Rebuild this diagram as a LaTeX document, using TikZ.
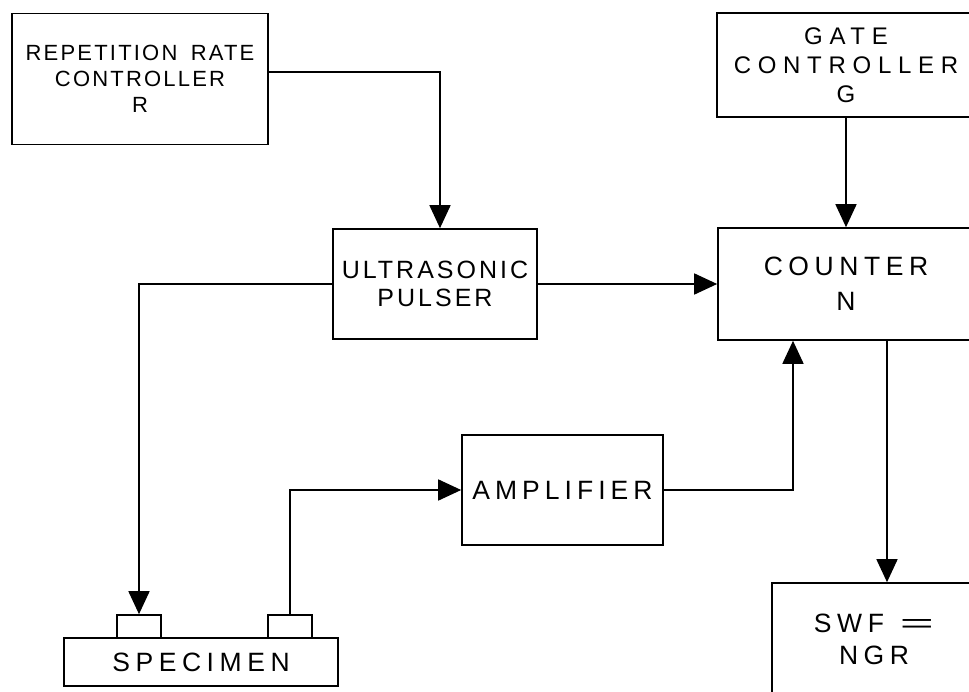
\documentclass[tikz,border=0pt]{standalone}
\usepackage{fontspec}
\usepackage{xcolor}
\usetikzlibrary{arrows.meta}
\newfontfamily\widefont[LetterSpace=21]{Liberation Sans}
\newfontfamily\gatefont[LetterSpace=28]{Liberation Sans}
\newfontfamily\midfont[LetterSpace=19]{Liberation Sans}
\newfontfamily\narrowfont[LetterSpace=12]{Liberation Sans}
\newfontfamily\tightfont[LetterSpace=10]{Liberation Sans}
\definecolor{ink}{RGB}{0,0,0}
\newcommand\wideeq{\scalebox{2.2}[1]{=}}

\tikzset{
  block/.style={draw=ink, line width=1.6pt, inner sep=0pt, align=center,
    font=\widefont\fontsize{26.5}{32}\selectfont},
  probe/.style={draw=ink, line width=1.6pt, inner sep=0pt,
    minimum width=44, minimum height=23},
  flow/.style={draw=ink, line width=1.6pt, -{Triangle[length=23pt,width=21pt]}},
  wire/.style={draw=ink, line width=1.6pt}
}

\begin{document}
\begin{tikzpicture}[x=1pt,y=-1pt]
\useasboundingbox (0,0) rectangle (969,692);
\clip (0,0) rectangle (969,692);
% Controllers on top
\node[block, minimum width=256, minimum height=131,
  font=\tightfont\fontsize{22}{26}\selectfont] (rate) at (140,79)
  {REPETITION\hspace{5pt} RATE\\CONTROLLER\\R};
\node[block, minimum width=258, minimum height=104,
  font=\gatefont\fontsize{24}{29}\selectfont] (gate) at (846,65)
  {GATE\\CONTROLLER\\G};
% Middle row
\node[block, minimum width=204, minimum height=110,
  font=\narrowfont\fontsize{25}{28}\selectfont] (pulser) at (435,284)
  {ULTRASONIC\\PULSER};
\node[block, minimum width=256, minimum height=112,
  font=\widefont\fontsize{26.5}{35}\selectfont] (counter) at (846,284)
  {COUNTER\\N};
\node[block, minimum width=201, minimum height=110,
  font=\midfont\fontsize{26.5}{32}\selectfont] (amp) at (562.5,490)
  {AMPLIFIER};
% Specimen with its two transducers
\node[block, minimum width=274, minimum height=48] (specimen) at (201,662)
  {SPECIMEN};
\node[probe] (sender) at (139,626.5) {};
\node[probe] (receiver) at (290,626.5) {};
% Result
\node[block, minimum width=204, minimum height=112] (result) at (874,639)
  {SWF\hspace{16pt}\wideeq\\NGR};
% Signal paths
\draw[flow] ([yshift=7pt]rate.east) -| ([xshift=5pt]pulser.north);
\draw[flow] (gate.south) -- (counter.north);
\draw[flow] (pulser.east) -- (counter.west);
\draw[flow] (pulser.west) -| (sender.north);
\draw[flow] (receiver.north) |- (amp.west);
\draw[flow] (amp.east) -| ([xshift=-53pt]counter.south);
\draw[flow] ([xshift=41pt]counter.south) -- ([xshift=13pt]result.north);
\end{tikzpicture}
\end{document}
